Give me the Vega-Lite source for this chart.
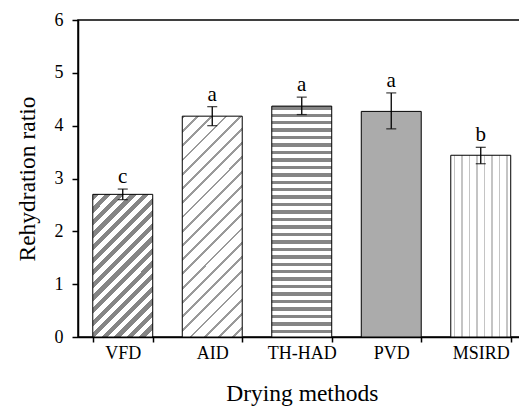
{
  "$schema": "https://vega.github.io/schema/vega-lite/v6.json",
  "width": 447.5,
  "height": 317,
  "autosize": "none",
  "padding": {"left": 78, "top": 20, "right": 0, "bottom": 70},
  "background": "white",
  "config": {
    "font": "Liberation Serif",
    "view": {"stroke": "black", "strokeWidth": 1.5},
    "axis": {
      "domainColor": "black", "tickColor": "black", "labelColor": "black", "titleColor": "black",
      "grid": false, "labelFont": "Liberation Serif", "titleFont": "Liberation Serif",
      "labelFontSize": 18, "titleFontSize": 23.5, "titleFontWeight": "normal",
      "domainWidth": 1.5, "tickWidth": 1.5
    }
  },
  "data": {"values": [
    {"method": "VFD", "ratio": 2.70, "lo": 2.60, "hi": 2.80, "letter": "c"},
    {"method": "AID", "ratio": 4.18, "lo": 4.00, "hi": 4.36, "letter": "a"},
    {"method": "TH-HAD", "ratio": 4.37, "lo": 4.21, "hi": 4.54, "letter": "a"},
    {"method": "PVD", "ratio": 4.27, "lo": 3.94, "hi": 4.62, "letter": "a"},
    {"method": "MSIRD", "ratio": 3.44, "lo": 3.28, "hi": 3.59, "letter": "b"}
  ]},
  "encoding": {
    "x": {
      "field": "method", "type": "nominal", "sort": null,
      "scale": {"paddingInner": 0.33, "paddingOuter": 0.165},
      "axis": {"title": "Drying methods", "labelAngle": 0, "tickBand": "extent", "tickSize": 5, "labelPadding": 2, "titlePadding": 19}
    }
  },
  "layer": [
    {
      "mark": {"type": "bar", "stroke": "black", "strokeWidth": 1},
      "encoding": {
        "y": {"field": "ratio", "type": "quantitative", "scale": {"domain": [0, 6]},
          "axis": {"title": "Rehydration ratio", "values": [0, 1, 2, 3, 4, 5, 6], "tickSize": 6, "labelPadding": 9, "titlePadding": 15}},
        "fill": {
          "condition": [
            {"test": "datum.method === 'VFD'", "value": {"gradient": "linear", "x1": 0, "y1": 0, "x2": 0.526, "y2": 1.25, "stops": [
              {"offset": 0, "color": "#858585"}, {"offset": 0.03, "color": "#858585"}, {"offset": 0.03, "color": "white"}, {"offset": 0.06, "color": "white"},
              {"offset": 0.06, "color": "#858585"}, {"offset": 0.09, "color": "#858585"}, {"offset": 0.09, "color": "white"}, {"offset": 0.12, "color": "white"},
              {"offset": 0.12, "color": "#858585"}, {"offset": 0.15, "color": "#858585"}, {"offset": 0.15, "color": "white"}, {"offset": 0.18, "color": "white"},
              {"offset": 0.18, "color": "#858585"}, {"offset": 0.21, "color": "#858585"}, {"offset": 0.21, "color": "white"}, {"offset": 0.24, "color": "white"},
              {"offset": 0.24, "color": "#858585"}, {"offset": 0.27, "color": "#858585"}, {"offset": 0.27, "color": "white"}, {"offset": 0.30, "color": "white"},
              {"offset": 0.30, "color": "#858585"}, {"offset": 0.33, "color": "#858585"}, {"offset": 0.33, "color": "white"}, {"offset": 0.36, "color": "white"},
              {"offset": 0.36, "color": "#858585"}, {"offset": 0.39, "color": "#858585"}, {"offset": 0.39, "color": "white"}, {"offset": 0.42, "color": "white"},
              {"offset": 0.42, "color": "#858585"}, {"offset": 0.45, "color": "#858585"}, {"offset": 0.45, "color": "white"}, {"offset": 0.48, "color": "white"},
              {"offset": 0.48, "color": "#858585"}, {"offset": 0.51, "color": "#858585"}, {"offset": 0.51, "color": "white"}, {"offset": 0.54, "color": "white"},
              {"offset": 0.54, "color": "#858585"}, {"offset": 0.57, "color": "#858585"}, {"offset": 0.57, "color": "white"}, {"offset": 0.60, "color": "white"},
              {"offset": 0.60, "color": "#858585"}, {"offset": 0.63, "color": "#858585"}, {"offset": 0.63, "color": "white"}, {"offset": 0.66, "color": "white"},
              {"offset": 0.66, "color": "#858585"}, {"offset": 0.69, "color": "#858585"}, {"offset": 0.69, "color": "white"}, {"offset": 0.72, "color": "white"},
              {"offset": 0.72, "color": "#858585"}, {"offset": 0.75, "color": "#858585"}, {"offset": 0.75, "color": "white"}, {"offset": 0.78, "color": "white"},
              {"offset": 0.78, "color": "#858585"}, {"offset": 0.81, "color": "#858585"}, {"offset": 0.81, "color": "white"}, {"offset": 0.84, "color": "white"},
              {"offset": 0.84, "color": "#858585"}, {"offset": 0.87, "color": "#858585"}, {"offset": 0.87, "color": "white"}, {"offset": 0.90, "color": "white"},
              {"offset": 0.90, "color": "#858585"}, {"offset": 0.93, "color": "#858585"}, {"offset": 0.93, "color": "white"}, {"offset": 0.96, "color": "white"},
              {"offset": 0.96, "color": "#858585"}, {"offset": 0.99, "color": "#858585"}, {"offset": 0.99, "color": "white"}, {"offset": 1, "color": "white"}
            ]}},
            {"test": "datum.method === 'AID'", "value": {"gradient": "linear", "x1": 0, "y1": 0, "x2": 0.326, "y2": 1.2, "stops": [
              {"offset": 0, "color": "#9a9a9a"}, {"offset": 0.01, "color": "#9a9a9a"}, {"offset": 0.01, "color": "white"}, {"offset": 0.05, "color": "white"},
              {"offset": 0.05, "color": "#9a9a9a"}, {"offset": 0.06, "color": "#9a9a9a"}, {"offset": 0.06, "color": "white"}, {"offset": 0.10, "color": "white"},
              {"offset": 0.10, "color": "#9a9a9a"}, {"offset": 0.11, "color": "#9a9a9a"}, {"offset": 0.11, "color": "white"}, {"offset": 0.15, "color": "white"},
              {"offset": 0.15, "color": "#9a9a9a"}, {"offset": 0.16, "color": "#9a9a9a"}, {"offset": 0.16, "color": "white"}, {"offset": 0.20, "color": "white"},
              {"offset": 0.20, "color": "#9a9a9a"}, {"offset": 0.21, "color": "#9a9a9a"}, {"offset": 0.21, "color": "white"}, {"offset": 0.25, "color": "white"},
              {"offset": 0.25, "color": "#9a9a9a"}, {"offset": 0.26, "color": "#9a9a9a"}, {"offset": 0.26, "color": "white"}, {"offset": 0.30, "color": "white"},
              {"offset": 0.30, "color": "#9a9a9a"}, {"offset": 0.31, "color": "#9a9a9a"}, {"offset": 0.31, "color": "white"}, {"offset": 0.35, "color": "white"},
              {"offset": 0.35, "color": "#9a9a9a"}, {"offset": 0.36, "color": "#9a9a9a"}, {"offset": 0.36, "color": "white"}, {"offset": 0.40, "color": "white"},
              {"offset": 0.40, "color": "#9a9a9a"}, {"offset": 0.41, "color": "#9a9a9a"}, {"offset": 0.41, "color": "white"}, {"offset": 0.45, "color": "white"},
              {"offset": 0.45, "color": "#9a9a9a"}, {"offset": 0.46, "color": "#9a9a9a"}, {"offset": 0.46, "color": "white"}, {"offset": 0.50, "color": "white"},
              {"offset": 0.50, "color": "#9a9a9a"}, {"offset": 0.51, "color": "#9a9a9a"}, {"offset": 0.51, "color": "white"}, {"offset": 0.55, "color": "white"},
              {"offset": 0.55, "color": "#9a9a9a"}, {"offset": 0.56, "color": "#9a9a9a"}, {"offset": 0.56, "color": "white"}, {"offset": 0.60, "color": "white"},
              {"offset": 0.60, "color": "#9a9a9a"}, {"offset": 0.61, "color": "#9a9a9a"}, {"offset": 0.61, "color": "white"}, {"offset": 0.65, "color": "white"},
              {"offset": 0.65, "color": "#9a9a9a"}, {"offset": 0.66, "color": "#9a9a9a"}, {"offset": 0.66, "color": "white"}, {"offset": 0.70, "color": "white"},
              {"offset": 0.70, "color": "#9a9a9a"}, {"offset": 0.71, "color": "#9a9a9a"}, {"offset": 0.71, "color": "white"}, {"offset": 0.75, "color": "white"},
              {"offset": 0.75, "color": "#9a9a9a"}, {"offset": 0.76, "color": "#9a9a9a"}, {"offset": 0.76, "color": "white"}, {"offset": 0.80, "color": "white"},
              {"offset": 0.80, "color": "#9a9a9a"}, {"offset": 0.81, "color": "#9a9a9a"}, {"offset": 0.81, "color": "white"}, {"offset": 0.85, "color": "white"},
              {"offset": 0.85, "color": "#9a9a9a"}, {"offset": 0.86, "color": "#9a9a9a"}, {"offset": 0.86, "color": "white"}, {"offset": 0.90, "color": "white"},
              {"offset": 0.90, "color": "#9a9a9a"}, {"offset": 0.91, "color": "#9a9a9a"}, {"offset": 0.91, "color": "white"}, {"offset": 0.95, "color": "white"},
              {"offset": 0.95, "color": "#9a9a9a"}, {"offset": 0.96, "color": "#9a9a9a"}, {"offset": 0.96, "color": "white"}, {"offset": 1, "color": "white"}
            ]}},
            {"test": "datum.method === 'TH-HAD'", "value": {"gradient": "linear", "x1": 0, "y1": 0, "x2": 0, "y2": 1, "stops": [
              {"offset": 0, "color": "#858585"}, {"offset": 0.015, "color": "#858585"}, {"offset": 0.015, "color": "white"}, {"offset": 0.0323, "color": "white"},
              {"offset": 0.0323, "color": "#858585"}, {"offset": 0.0473, "color": "#858585"}, {"offset": 0.0473, "color": "white"}, {"offset": 0.0645, "color": "white"},
              {"offset": 0.0645, "color": "#858585"}, {"offset": 0.0795, "color": "#858585"}, {"offset": 0.0795, "color": "white"}, {"offset": 0.0968, "color": "white"},
              {"offset": 0.0968, "color": "#858585"}, {"offset": 0.1118, "color": "#858585"}, {"offset": 0.1118, "color": "white"}, {"offset": 0.1290, "color": "white"},
              {"offset": 0.1290, "color": "#858585"}, {"offset": 0.1440, "color": "#858585"}, {"offset": 0.1440, "color": "white"}, {"offset": 0.1613, "color": "white"},
              {"offset": 0.1613, "color": "#858585"}, {"offset": 0.1763, "color": "#858585"}, {"offset": 0.1763, "color": "white"}, {"offset": 0.1935, "color": "white"},
              {"offset": 0.1935, "color": "#858585"}, {"offset": 0.2085, "color": "#858585"}, {"offset": 0.2085, "color": "white"}, {"offset": 0.2258, "color": "white"},
              {"offset": 0.2258, "color": "#858585"}, {"offset": 0.2408, "color": "#858585"}, {"offset": 0.2408, "color": "white"}, {"offset": 0.2581, "color": "white"},
              {"offset": 0.2581, "color": "#858585"}, {"offset": 0.2731, "color": "#858585"}, {"offset": 0.2731, "color": "white"}, {"offset": 0.2903, "color": "white"},
              {"offset": 0.2903, "color": "#858585"}, {"offset": 0.3053, "color": "#858585"}, {"offset": 0.3053, "color": "white"}, {"offset": 0.3226, "color": "white"},
              {"offset": 0.3226, "color": "#858585"}, {"offset": 0.3376, "color": "#858585"}, {"offset": 0.3376, "color": "white"}, {"offset": 0.3548, "color": "white"},
              {"offset": 0.3548, "color": "#858585"}, {"offset": 0.3698, "color": "#858585"}, {"offset": 0.3698, "color": "white"}, {"offset": 0.3871, "color": "white"},
              {"offset": 0.3871, "color": "#858585"}, {"offset": 0.4021, "color": "#858585"}, {"offset": 0.4021, "color": "white"}, {"offset": 0.4194, "color": "white"},
              {"offset": 0.4194, "color": "#858585"}, {"offset": 0.4344, "color": "#858585"}, {"offset": 0.4344, "color": "white"}, {"offset": 0.4516, "color": "white"},
              {"offset": 0.4516, "color": "#858585"}, {"offset": 0.4666, "color": "#858585"}, {"offset": 0.4666, "color": "white"}, {"offset": 0.4839, "color": "white"},
              {"offset": 0.4839, "color": "#858585"}, {"offset": 0.4989, "color": "#858585"}, {"offset": 0.4989, "color": "white"}, {"offset": 0.5161, "color": "white"},
              {"offset": 0.5161, "color": "#858585"}, {"offset": 0.5311, "color": "#858585"}, {"offset": 0.5311, "color": "white"}, {"offset": 0.5484, "color": "white"},
              {"offset": 0.5484, "color": "#858585"}, {"offset": 0.5634, "color": "#858585"}, {"offset": 0.5634, "color": "white"}, {"offset": 0.5806, "color": "white"},
              {"offset": 0.5806, "color": "#858585"}, {"offset": 0.5956, "color": "#858585"}, {"offset": 0.5956, "color": "white"}, {"offset": 0.6129, "color": "white"},
              {"offset": 0.6129, "color": "#858585"}, {"offset": 0.6279, "color": "#858585"}, {"offset": 0.6279, "color": "white"}, {"offset": 0.6452, "color": "white"},
              {"offset": 0.6452, "color": "#858585"}, {"offset": 0.6602, "color": "#858585"}, {"offset": 0.6602, "color": "white"}, {"offset": 0.6774, "color": "white"},
              {"offset": 0.6774, "color": "#858585"}, {"offset": 0.6924, "color": "#858585"}, {"offset": 0.6924, "color": "white"}, {"offset": 0.7097, "color": "white"},
              {"offset": 0.7097, "color": "#858585"}, {"offset": 0.7247, "color": "#858585"}, {"offset": 0.7247, "color": "white"}, {"offset": 0.7419, "color": "white"},
              {"offset": 0.7419, "color": "#858585"}, {"offset": 0.7569, "color": "#858585"}, {"offset": 0.7569, "color": "white"}, {"offset": 0.7742, "color": "white"},
              {"offset": 0.7742, "color": "#858585"}, {"offset": 0.7892, "color": "#858585"}, {"offset": 0.7892, "color": "white"}, {"offset": 0.8065, "color": "white"},
              {"offset": 0.8065, "color": "#858585"}, {"offset": 0.8215, "color": "#858585"}, {"offset": 0.8215, "color": "white"}, {"offset": 0.8387, "color": "white"},
              {"offset": 0.8387, "color": "#858585"}, {"offset": 0.8537, "color": "#858585"}, {"offset": 0.8537, "color": "white"}, {"offset": 0.8710, "color": "white"},
              {"offset": 0.8710, "color": "#858585"}, {"offset": 0.8860, "color": "#858585"}, {"offset": 0.8860, "color": "white"}, {"offset": 0.9032, "color": "white"},
              {"offset": 0.9032, "color": "#858585"}, {"offset": 0.9182, "color": "#858585"}, {"offset": 0.9182, "color": "white"}, {"offset": 0.9355, "color": "white"},
              {"offset": 0.9355, "color": "#858585"}, {"offset": 0.9505, "color": "#858585"}, {"offset": 0.9505, "color": "white"}, {"offset": 0.9677, "color": "white"},
              {"offset": 0.9677, "color": "#858585"}, {"offset": 0.9827, "color": "#858585"}, {"offset": 0.9827, "color": "white"}, {"offset": 1, "color": "white"}
            ]}},
            {"test": "datum.method === 'MSIRD'", "value": {"gradient": "linear", "x1": 0, "y1": 0, "x2": 1, "y2": 0, "stops": [
              {"offset": 0, "color": "white"}, {"offset": 0.05, "color": "white"}, {"offset": 0.05, "color": "#c4c4c4"}, {"offset": 0.075, "color": "#c4c4c4"}, {"offset": 0.075, "color": "white"},
              {"offset": 0.175, "color": "white"}, {"offset": 0.175, "color": "#c4c4c4"}, {"offset": 0.2, "color": "#c4c4c4"}, {"offset": 0.2, "color": "white"},
              {"offset": 0.3, "color": "white"}, {"offset": 0.3, "color": "#c4c4c4"}, {"offset": 0.325, "color": "#c4c4c4"}, {"offset": 0.325, "color": "white"},
              {"offset": 0.425, "color": "white"}, {"offset": 0.425, "color": "#c4c4c4"}, {"offset": 0.45, "color": "#c4c4c4"}, {"offset": 0.45, "color": "white"},
              {"offset": 0.55, "color": "white"}, {"offset": 0.55, "color": "#c4c4c4"}, {"offset": 0.575, "color": "#c4c4c4"}, {"offset": 0.575, "color": "white"},
              {"offset": 0.675, "color": "white"}, {"offset": 0.675, "color": "#c4c4c4"}, {"offset": 0.7, "color": "#c4c4c4"}, {"offset": 0.7, "color": "white"},
              {"offset": 0.8, "color": "white"}, {"offset": 0.8, "color": "#c4c4c4"}, {"offset": 0.825, "color": "#c4c4c4"}, {"offset": 0.825, "color": "white"},
              {"offset": 0.925, "color": "white"}, {"offset": 0.925, "color": "#c4c4c4"}, {"offset": 0.95, "color": "#c4c4c4"}, {"offset": 0.95, "color": "white"},
              {"offset": 1, "color": "white"}
            ]}}
          ],
          "value": "#ababab"
        }
      }
    },
    {
      "mark": {"type": "errorbar", "thickness": 1.3, "color": "black", "ticks": {"size": 10, "color": "black"}},
      "encoding": {
        "y": {"field": "lo", "type": "quantitative", "title": "Rehydration ratio"},
        "y2": {"field": "hi"}
      }
    },
    {
      "mark": {"type": "text", "baseline": "alphabetic", "dy": -6, "fontSize": 21, "font": "Liberation Serif", "color": "black"},
      "encoding": {
        "y": {"field": "hi", "type": "quantitative", "title": "Rehydration ratio"},
        "text": {"field": "letter"}
      }
    }
  ]
}
